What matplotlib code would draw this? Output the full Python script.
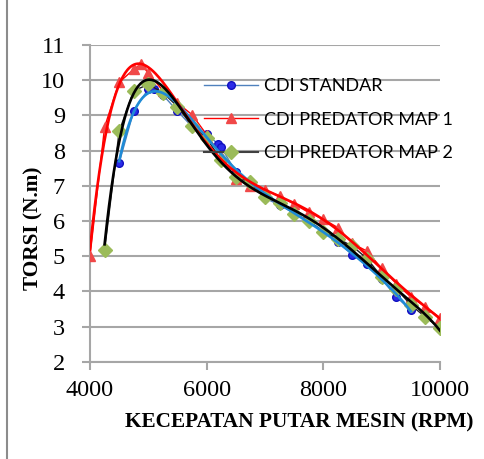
import numpy as np
import matplotlib.pyplot as plt
from matplotlib.lines import Line2D

# data (rpm, torque N.m)
rpm_std = [4500, 4750, 5000, 5100, 5250, 5500, 5750, 6000, 6200, 6250, 6500, 6750,
           7000, 7250, 7500, 7750, 8000, 8250, 8500, 8750, 9000, 9250, 9500]
torsi_std = [7.65, 9.13, 9.75, 9.75, 9.58, 9.12, 8.68, 8.47, 8.18, 8.09, 7.40, 7.05,
             6.65, 6.45, 6.22, 6.00, 5.72, 5.40, 5.03, 4.77, 4.35, 3.84, 3.47]

rpm_map1 = [4000, 4250, 4500, 4750, 4875, 5000, 5250, 5500, 5750, 6000, 6250, 6500, 6750,
            7000, 7250, 7500, 7750, 8000, 8250, 8500, 8750, 9000, 9250, 9500, 9750, 10000]
torsi_map1 = [5.00, 8.67, 9.94, 10.31, 10.46, 10.20, 9.70, 9.35, 9.02, 8.45, 7.85, 7.18, 7.00,
              6.88, 6.71, 6.48, 6.24, 6.05, 5.81, 5.36, 5.14, 4.65, 4.22, 3.84, 3.56, 3.25]

rpm_map2 = [4250, 4500, 4750, 5000, 5250, 5500, 5750, 6000, 6250, 6500, 6750, 7000, 7250,
            7500, 7750, 8000, 8250, 8500, 8750, 9000, 9250, 9500, 9750, 10000]
torsi_map2 = [5.17, 8.55, 9.70, 9.88, 9.65, 9.25, 8.70, 8.35, 7.72, 7.24, 7.10, 6.69, 6.50,
              6.21, 6.00, 5.69, 5.50, 5.28, 4.93, 4.41, 4.08, 3.61, 3.27, 2.95]

labels = ['CDI STANDAR', 'CDI PREDATOR MAP 1', 'CDI PREDATOR MAP 2']

fig = plt.figure(figsize=(4.85, 4.59), dpi=100)
ax = fig.add_axes([90 / 485, 1 - 361.7 / 459, 350 / 485, (361.7 - 45) / 459])

# series: straight segments with markers
ax.plot(rpm_std, torsi_std, color='#4F81BD', lw=1.0, marker='o', ms=5.5,
        mfc='#2B2BE8', mec='#1010C0', mew=1.0, zorder=3)
ax.plot(rpm_map1, torsi_map1, color='#FF0000', lw=1.0, marker='^', ms=7,
        mfc='#F04848', mec='#F04848', zorder=3)
ax.plot(rpm_map2, torsi_map2, color='#202020', lw=1.0, marker='D', ms=7,
        mfc='#9BBB59', mec='#9BBB59', zorder=3)


# polynomial trendlines (order 6, like Excel)
def trend(x, y, color):
    x = np.array(x, dtype=float)
    xs = (x - 7000) / 3000
    coef = np.polyfit(xs, y, 6)
    xx = np.linspace(x.min(), x.max(), 300)
    ax.plot(xx, np.polyval(coef, (xx - 7000) / 3000), color=color, lw=1.9, zorder=4)


trend(rpm_std, torsi_std, '#1F8BD6')
trend(rpm_map1, torsi_map1, '#FF0000')
trend(rpm_map2, torsi_map2, '#000000')

ax.set_xlim(4000, 10000)
ax.set_ylim(2, 11)
ax.set_xticks([4000, 6000, 8000, 10000])
ax.set_yticks(range(2, 12))
ax.yaxis.grid(True, color='#A6A6A6', lw=1.5)
ax.set_axisbelow(True)
for s in ['top', 'right']:
    ax.spines[s].set_visible(False)
for s in ['left', 'bottom']:
    ax.spines[s].set_color('#A6A6A6')
    ax.spines[s].set_linewidth(1.5)
ax.tick_params(colors='#A6A6A6', width=1.5, length=6, labelcolor='black',
               labelsize=17.5)
ax.tick_params(axis='x', pad=7)
ax.tick_params(axis='y', pad=12)
for t in ax.get_xticklabels() + ax.get_yticklabels():
    t.set_fontfamily('Liberation Serif')

ax.set_xlabel('KECEPATAN PUTAR MESIN (RPM)', fontfamily='Liberation Serif',
              fontweight='bold', fontsize=15.3)
ax.xaxis.set_label_coords((299 - 90) / 350, (361.7 - 412) / 316.7)
ax.set_ylabel('TORSI (N.m)', fontfamily='Liberation Serif', fontweight='bold',
              fontsize=15.3)
ax.yaxis.set_label_coords((43 - 90) / 350, (361.7 - 228.5) / 316.7)

handles = [
    Line2D([], [], color='#4F81BD', lw=1.0, marker='o', ms=5.5, mfc='#2B2BE8', mec='#1010C0'),
    Line2D([], [], color='#FF0000', lw=1.0, marker='^', ms=7, mfc='#F04848', mec='#F04848'),
    Line2D([], [], color='#404040', lw=1.5, marker='D', ms=7, mfc='#9BBB59', mec='#9BBB59'),
]
ax.legend(handles, labels, loc='upper left', bbox_to_anchor=(204 / 485, 1 - 78 / 459),
          bbox_transform=fig.transFigure, frameon=False, numpoints=1,
          prop={'family': 'Lato', 'size': 13}, handlelength=3.0, handletextpad=0.3,
          labelspacing=0.98, borderpad=0, borderaxespad=0)

# chart area border on the left
fig.add_artist(Line2D([7.5 / 485, 7.5 / 485], [0, 1], color='#8C8C8C', lw=1.5,
                      transform=fig.transFigure))

fig.savefig('out.png', dpi=100)
